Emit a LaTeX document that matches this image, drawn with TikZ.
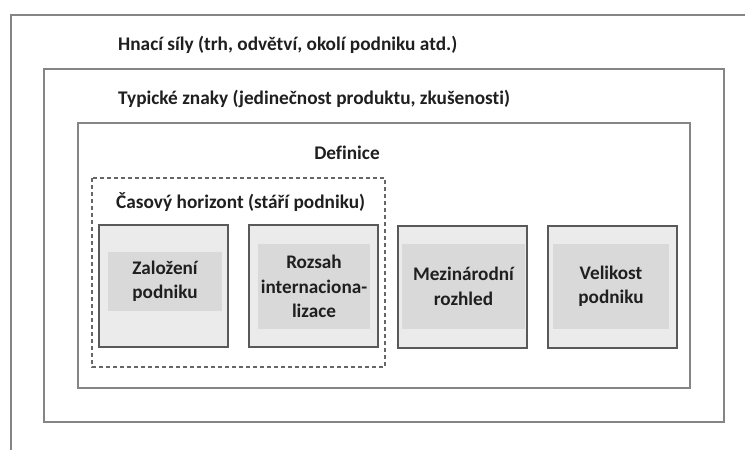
\documentclass[tikz,border=0pt]{standalone}
\usepackage{fontspec}
\setmainfont{Carlito}[Ligatures=NoCommon]
\begin{document}
\begin{tikzpicture}[x=1pt,y=-1pt,
  frame/.style={draw=black!48,line width=1.6pt},
  dashframe/.style={draw=black!60,line width=1.3pt,dash pattern=on 4pt off 3pt},
  title/.style={anchor=west,inner sep=0pt,font=\fontsize{19.3}{23}\selectfont\bfseries,text=black!88},
  card/.style={draw=black!65,line width=1.3pt,fill=black!8,minimum width=129pt,minimum height=122pt,inner sep=0pt},
  label/.style={fill=black!15,inner sep=0pt,align=center,text=black!88,
    font=\fontsize{19.2}{24.5}\selectfont\bfseries}]
\useasboundingbox (0,0) rectangle (745,450);
\fill[white] (0,0) rectangle (745,450);
% nested frames
\draw[frame] (745,15) -- (11,15) -- (11,450);
\draw[frame] (44,69) rectangle (724,422);
\draw[frame] (78,123) rectangle (690,388);
\draw[dashframe] (92,178) rectangle (385,367);
% frame titles
\node[title] (t1) at (118,45) {Hnací síly (trh, odvětví, okolí podniku atd.)};
\node[title] (t2) at (118,99) {Typické znaky (jedinečnost produktu, zkušenost\kern0pt i)};
\node[title,anchor=center] (t3) at (347,153) {Definice};
\node[title] (t4) at (116,202) {Časový horizont (stáří podniku)};
% cards
\node[card] (c1) at (163.5,286) {};
\node[card] (c2) at (313.5,286) {};
\node[card] (c3) at (462.5,287) {};
\node[card] (c4) at (612.5,287) {};
\node[label,minimum width=114pt,minimum height=59pt] (l1) at (165,281.5) {Založení\\podniku};
\node[label,minimum width=112pt,minimum height=85pt] (l2) at (314,286.5) {Rozsah\\internaciona-\\lizace};
\node[label,minimum width=123pt,minimum height=85pt] (l3) at (463.5,286.5) {Mezinárodní\\rozhled};
\node[label,minimum width=116pt,minimum height=85pt] (l4) at (611,286.5) {Velikost\\podniku};
\end{tikzpicture}
\end{document}
